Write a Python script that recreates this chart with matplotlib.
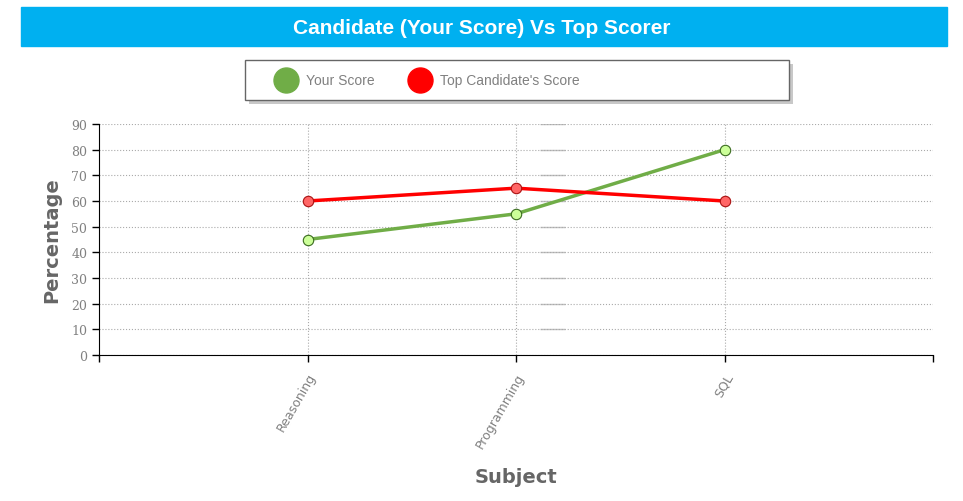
import matplotlib.pyplot as plt
from matplotlib.patches import Rectangle
from matplotlib.lines import Line2D

# data
subjects = ['Reasoning', 'Programming', 'SQL']
your_score = [45, 55, 80]
top_score = [60, 65, 60]
y_ticks = [0, 10, 20, 30, 40, 50, 60, 70, 80, 90]
series_names = ['Your Score', "Top Candidate's Score"]

GREEN = '#70ad47'
RED = '#ff0000'
GRAY = '#808080'
W, H = 963, 502


def fx(px):
    return px / W


def fy(py):
    return 1 - py / H


fig = plt.figure(figsize=(9.63, 5.02), dpi=100)

# title banner
fig.patches.append(Rectangle((fx(21), fy(47)), fx(926), 39 / H,
                             transform=fig.transFigure, color='#00b0f0', zorder=0))
fig.text(0.5, fy(28), 'Candidate (Your Score) Vs Top Scorer', ha='center', va='center',
         color='white', fontsize=15, fontweight='bold', family='Liberation Sans')

ax = fig.add_axes([fx(99), fy(356), fx(834), 231 / H])
x = list(range(len(subjects)))

ax.plot(x, your_score, color=GREEN, lw=2.5, marker='o', ms=7.5,
        mfc='#ccff99', mec='#3a6b1f', mew=0.8, zorder=3)
ax.plot(x, top_score, color=RED, lw=2.5, marker='o', ms=7.5,
        mfc='#ff6666', mec='#aa1111', mew=0.8, zorder=3)

ax.set_xlim(-1, 3)
ax.set_ylim(0, 90)
ax.set_xticks([-1] + x + [3])
ax.set_xticklabels([''] + subjects + [''], rotation=60, ha='right', rotation_mode='anchor',
                   color=GRAY, fontsize=9, family='DejaVu Sans')
ax.set_yticks(y_ticks)
ax.set_yticklabels([str(v) for v in y_ticks], color=GRAY, fontsize=9, family='DejaVu Serif')
ax.tick_params(axis='both', length=5, width=1, color='black')
ax.tick_params(axis='x', pad=6)

ax.grid(True, linestyle=':', color='#aaaaaa', lw=0.8)
for v in y_ticks[1:]:
    ax.hlines(v, 1.115, 1.235, color='#c0c0c0', lw=1, zorder=1)
for t in ax.xaxis.get_gridlines()[0::4]:
    t.set_visible(False)
ax.spines['top'].set_visible(False)
ax.spines['right'].set_visible(False)

ax.set_ylabel('Percentage', fontsize=14, fontweight='bold', color='#666666', labelpad=7)
fig.text(fx(516), fy(478), 'Subject', ha='center', va='center',
         fontsize=14, fontweight='bold', color='#666666')

# legend box drawn by hand to match the wide layout
fig.patches.append(Rectangle((fx(249), fy(105)), fx(544), 40 / H, transform=fig.transFigure,
                             facecolor='#c8c8c8', edgecolor='none', zorder=1))
fig.patches.append(Rectangle((fx(245), fy(101)), fx(544), 40 / H, transform=fig.transFigure,
                             facecolor='white', edgecolor='#666666', lw=1, zorder=2))
for cx, tx, color, name in [(286, 306, GREEN, series_names[0]),
                            (420, 440, RED, series_names[1])]:
    fig.add_artist(Line2D([fx(cx)], [fy(81)], transform=fig.transFigure, ls='',
                          marker='o', ms=18, mfc=color, mec=color, zorder=3))
    fig.text(fx(tx), fy(81), name, ha='left', va='center', color=GRAY,
             fontsize=10, family='Liberation Sans', zorder=3)

fig.savefig('out.png', dpi=100)
